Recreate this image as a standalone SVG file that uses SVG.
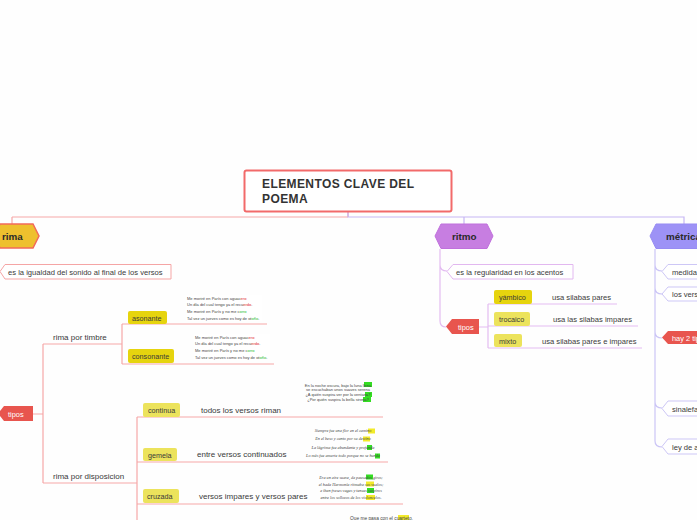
<svg xmlns="http://www.w3.org/2000/svg" width="697" height="520" viewBox="0 0 697 520">
<style>
text{font-family:"Liberation Sans",Arial,sans-serif;fill:#3a3a3a}
.t{font-size:7.6px}
.lab{font-size:8px}
.hd{font-size:9.8px;font-weight:bold;fill:#2a2a2a}
.nd{font-size:7.2px}
.wt{font-size:7.4px;fill:#ffffff}
.p{font-size:4px;fill:#444}
.pi{font-size:4.2px;fill:#444;font-style:italic;font-family:"Liberation Serif",serif}
.rl{fill:none;stroke:#f6a7a7;stroke-width:1.2}
.pl{fill:none;stroke:#e3bcf1;stroke-width:1.2}
.bl{fill:none;stroke:#cbc5f6;stroke-width:1.2}
.ybox{fill:#e6d40e}
.lbox{fill:#ece35c}
.red{fill:#e8554e}
</style>
<rect width="697" height="520" fill="#fefefe"/>

<g id="connectors">
  <path d="M348 212 V217 M12 217 H348 V217" class="rl" stroke="#f59a9a"/>
  <path d="M12 217 V224" class="rl"/>
  <path d="M348 212 V217 H684 V224 M464 217 V224" fill="none" stroke="#c6b6f4" stroke-width="1.2"/>
  <!-- rima -->
  <path d="M33 414 H43 M43 344 V483 M43 344 H122 M43 483 H137" class="rl"/>
  <path d="M122 324 V364 M122 324 H267 M122 364 H274" class="rl"/>
  <path d="M137 417 V520 M137 417 H383 M137 462 H388 M137 504 H403" class="rl"/>
  <!-- ritmo -->
  <path d="M440 249 V321 Q440 327 446 327 M440 265 Q440 271 447 271" class="pl"/>
  <path d="M479 327 H488 M488 304 V348 M488 304 H617 M488 326 H638 M488 348 H642" class="pl"/>
  <!-- metrica -->
  <path d="M655 249 V441 Q655 447 662 447 M655 265 Q655 271 662 271 M655 288 Q655 294 662 294 M655 332 Q655 338 662 338 M655 402 Q655 408 662 408" class="bl"/>
</g>

<g id="title">
  <rect x="244.5" y="170.5" width="207" height="41" rx="2" fill="#ffffff" stroke="#f26a6a" stroke-width="2"/>
  <text x="262" y="188" style="font-size:12px;font-weight:bold;fill:#333;letter-spacing:0.4px">ELEMENTOS CLAVE DEL</text>
  <text x="262" y="203" style="font-size:12px;font-weight:bold;fill:#333;letter-spacing:0.4px">POEMA</text>
</g>

<g id="rima">
  <polygon points="-6,236 0,224 33,224 39,236 33,248 0,248" fill="#eec02e" stroke="#f26a5a" stroke-width="1.5"/>
  <text x="2" y="240" class="hd">rima</text>
</g>
<g id="rima-def">
  <polygon points="0,271.5 5,264.5 171,264.5 171,279 5,279" fill="#ffffff" stroke="#f5a5a5" stroke-width="1"/>
  <text x="8" y="275" class="t">es la igualdad del sonido al final de los versos</text>
</g>
<g id="rima-tipos">
  <polygon points="-2,413.5 4,406 33,406 33,421 4,421" class="red"/>
  <text x="8" y="417" class="wt">tipos</text>
</g>
<g id="rima-timbre"><text x="53" y="340" class="lab">rima por timbre</text></g>
<g id="rima-disposicion"><text x="53" y="479" class="lab">rima por disposicion</text></g>

<g id="asonante">
  <rect x="128" y="311" width="39" height="13" rx="2" class="ybox"/>
  <text x="132" y="320.5" class="nd">asonante</text>
</g>
<g id="asonante-poema">
  <rect x="186" y="295" width="76" height="26" fill="#ffffff"/>
  <text x="187" y="299.5" class="p">Me moriré en París con aguac<tspan fill="#e02020">ero</tspan></text>
  <text x="187" y="306" class="p">Un día del cual tengo ya el recu<tspan fill="#e02020">erdo</tspan>.</text>
  <text x="187" y="313" class="p">Me moriré en París y no me c<tspan fill="#22bb22">orro</tspan></text>
  <text x="187" y="319.5" class="p">Tal vez un jueves como es hoy de ot<tspan fill="#22bb22">oño</tspan>.</text>
</g>
<g id="consonante">
  <rect x="128" y="349" width="46" height="14" rx="2" class="ybox"/>
  <text x="132" y="359" class="nd">consonante</text>
</g>
<g id="consonante-poema">
  <rect x="194" y="334" width="76" height="26" fill="#ffffff"/>
  <text x="195" y="338.5" class="p">Me moriré en París con aguac<tspan fill="#e02020">ero</tspan></text>
  <text x="195" y="345" class="p">Un día del cual tengo ya el recu<tspan fill="#e02020">erdo</tspan>.</text>
  <text x="195" y="352" class="p">Me moriré en París y no me c<tspan fill="#22bb22">orro</tspan></text>
  <text x="195" y="358.5" class="p">Tal vez un jueves como es hoy de ot<tspan fill="#22bb22">oño</tspan>.</text>
</g>

<g id="continua">
  <rect x="143" y="403" width="37" height="14" rx="2" class="lbox"/>
  <text x="148" y="413" class="nd">continua</text>
  <text x="201" y="413" class="lab">todos los versos riman</text>
</g>
<g id="continua-poema">
  <rect x="364" y="382" width="8" height="5" fill="#33dd22"/>
  <rect x="365" y="392" width="7" height="5" fill="#33dd22"/>
  <rect x="363" y="397" width="8" height="5" fill="#33dd22"/>
  <text x="338" y="386.5" class="p" text-anchor="middle">En la noche oscura, bajo la luna llena</text>
  <text x="338" y="391" class="p" text-anchor="middle">se escuchaban unos suaves serena</text>
  <text x="338" y="396" class="p" text-anchor="middle">¿A quién suspira ver por la ventana?</text>
  <text x="338" y="401" class="p" text-anchor="middle">¿Por quién suspira la bella sirena?</text>
</g>

<g id="gemela">
  <rect x="143" y="448" width="34" height="13" rx="2" class="lbox"/>
  <text x="148" y="457.5" class="nd">gemela</text>
  <text x="197" y="457" class="lab">entre versos continuados</text>
</g>
<g id="gemela-poema">
  <rect x="368" y="428.5" width="7" height="5" fill="#f2ea2a"/>
  <rect x="363" y="436.5" width="7" height="5" fill="#f2ea2a"/>
  <rect x="367" y="445" width="5" height="5" fill="#33dd22"/>
  <rect x="375" y="453.5" width="5" height="5" fill="#33dd22"/>
  <text x="343" y="432" class="pi" text-anchor="middle">Siempre fue una flor en el camino</text>
  <text x="343" y="440" class="pi" text-anchor="middle">En el beso y canto por su destino</text>
  <text x="343" y="448.5" class="pi" text-anchor="middle">La lágrima fue abundante y profunda</text>
  <text x="343" y="457" class="pi" text-anchor="middle">Lo más fue amarte todo porque no se hunda</text>
</g>

<g id="cruzada">
  <rect x="143" y="489" width="36" height="14" rx="2" class="lbox"/>
  <text x="147" y="499" class="nd">cruzada</text>
  <text x="199" y="499" class="lab">versos impares y versos pares</text>
</g>
<g id="cruzada-poema">
  <rect x="366" y="474.5" width="7" height="5" fill="#33dd22"/>
  <rect x="366" y="481.5" width="8" height="5" fill="#f2ea2a"/>
  <rect x="367" y="488" width="7" height="5" fill="#33dd22"/>
  <rect x="366" y="495" width="9" height="5" fill="#f2ea2a"/>
  <text x="351" y="478.5" class="pi" text-anchor="middle">Era un aire suave, de pausados giros;</text>
  <text x="351" y="485.5" class="pi" text-anchor="middle">el hada Harmonía ritmaba sus vuelos;</text>
  <text x="351" y="492" class="pi" text-anchor="middle">e iban frases vagas y tenues suspiros</text>
  <text x="351" y="499" class="pi" text-anchor="middle">entre los sollozos de los violoncelos.</text>
</g>
<g id="cuarteto">
  <rect x="398" y="515" width="11" height="5" fill="#f2ea2a"/>
  <text x="350" y="520" style="font-size:4.8px;fill:#444">Que me pasa con el cuarteto,</text>
</g>

<g id="ritmo">
  <polygon points="435,236 441,224 487,224 493,236 487,248.5 441,248.5" fill="#c77ee1" stroke="#c070dd" stroke-width="1"/>
  <text x="452" y="240" class="hd">ritmo</text>
</g>
<g id="ritmo-def">
  <polygon points="447,271.5 453,264.5 573,264.5 573,279 453,279" fill="#ffffff" stroke="#e2b8f0" stroke-width="1"/>
  <text x="456" y="275" class="t">es la regularidad en los acentos</text>
</g>
<g id="ritmo-tipos">
  <polygon points="446,326.5 452,319 479,319 479,334 452,334" class="red"/>
  <text x="458" y="330" class="wt">tipos</text>
</g>
<g id="yambico">
  <rect x="494" y="290" width="38" height="14" rx="2" class="ybox"/>
  <text x="499" y="300" class="nd">yámbico</text>
  <text x="552" y="300" class="t">usa silabas pares</text>
</g>
<g id="trocaico">
  <rect x="494" y="312" width="36" height="14" rx="2" class="lbox"/>
  <text x="499" y="322" class="nd">trocaico</text>
  <text x="553" y="322" class="t">usa las silabas impares</text>
</g>
<g id="mixto">
  <rect x="494" y="334" width="28" height="13" rx="2" class="lbox"/>
  <text x="499" y="344" class="nd">mixto</text>
  <text x="542" y="344" class="t">usa silabas pares e impares</text>
</g>

<g id="metrica">
  <polygon points="650,236 656,224 705,224 705,248.5 656,248.5" fill="#9d92f6" stroke="#978bf3" stroke-width="1"/>
  <text x="666" y="240" class="hd">métrica</text>
</g>
<g id="metrica-medida">
  <polygon points="662,271.5 668,264.5 705,264.5 705,279 668,279" fill="#ffffff" stroke="#cdc7f6" stroke-width="1"/>
  <text x="672" y="275" class="t">medida de los versos</text>
</g>
<g id="metrica-versos">
  <polygon points="662,294 668,287 705,287 705,301 668,301" fill="#ffffff" stroke="#cdc7f6" stroke-width="1"/>
  <text x="672" y="297" class="t">los versos</text>
</g>
<g id="metrica-tipos">
  <polygon points="662,337.5 668,331 705,331 705,344 668,344" class="red"/>
  <text x="672" y="341" class="wt">hay 2 tipos</text>
</g>
<g id="sinalefa">
  <polygon points="662,408.5 668,401 705,401 705,416 668,416" fill="#ffffff" stroke="#cdc7f6" stroke-width="1"/>
  <text x="672" y="412" class="t">sinalefa</text>
</g>
<g id="ley">
  <polygon points="662,446.5 668,439 705,439 705,454 668,454" fill="#ffffff" stroke="#cdc7f6" stroke-width="1"/>
  <text x="672" y="450" class="t">ley de acento final</text>
</g>
</svg>
